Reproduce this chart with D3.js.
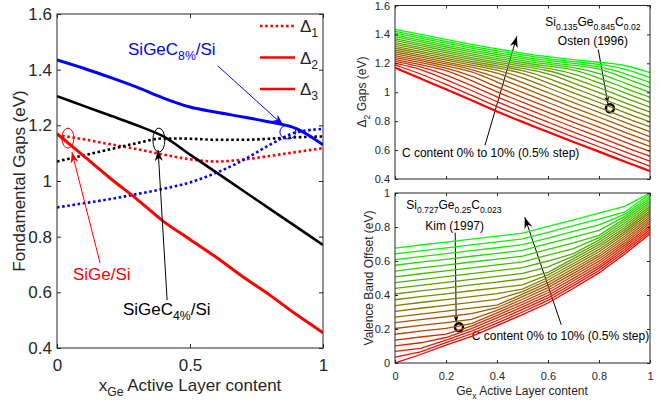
<!DOCTYPE html>
<html lang="en">
<head>
<meta charset="UTF-8">
<title>SiGeC fundamental gaps</title>
<script src="https://d3js.org/d3.v7.min.js"></script>
<style>
  body { margin: 0; padding: 0; background-color: #ffffff; }
  svg { display: block; }
</style>
</head>
<body>
<svg id="chart" width="670" height="403" font-family="Arial, 'Liberation Sans', Helvetica, sans-serif"></svg>
<script>
// ---- data ----
const xGrid = [0, 0.1, 0.2, 0.3, 0.4, 0.5, 0.6, 0.7, 0.8, 0.9, 1];

// left panel: fundamental gaps vs Ge content
const d1SiGe = [1.165, 1.15, 1.132, 1.115, 1.095, 1.078, 1.07, 1.077, 1.09, 1.104, 1.118];
const d2SiGe = [1.17, 1.09, 1.01, 0.935, 0.855, 0.79, 0.725, 0.655, 0.59, 0.52, 0.455];
const d1C4 = [1.07, 1.092, 1.114, 1.136, 1.153, 1.152, 1.148, 1.148, 1.152, 1.157, 1.16];
const d2C4 = [1.305, 1.27, 1.235, 1.2, 1.16, 1.095, 1.03, 0.965, 0.9, 0.835, 0.77];
const d1C8 = [0.905, 0.92, 0.935, 0.953, 0.972, 0.995, 1.03, 1.075, 1.13, 1.175, 1.187];
const d2C8 = [1.435, 1.405, 1.372, 1.337, 1.298, 1.266, 1.247, 1.23, 1.212, 1.188, 1.13];

const leftXTicks = [0, 0.5, 1];
const gapTicks = [0.4, 0.6, 0.8, 1, 1.2, 1.4, 1.6];
const rightXTicks = [0, 0.2, 0.4, 0.6, 0.8, 1];
const vboTicks = [0, 0.2, 0.4, 0.6, 0.8, 1];

// top right: Delta2 gap, C content 0% .. 10% in 0.5% steps (21 curves)
const d2Gaps = [
  [1.17, 1.095, 1.02, 0.945, 0.865, 0.795, 0.725, 0.655, 0.59, 0.52, 0.455],
  [1.188, 1.129, 1.054, 0.979, 0.899, 0.829, 0.759, 0.689, 0.624, 0.554, 0.489],
  [1.201, 1.163, 1.088, 1.013, 0.933, 0.863, 0.793, 0.723, 0.658, 0.588, 0.523],
  [1.214, 1.179, 1.122, 1.047, 0.967, 0.897, 0.827, 0.757, 0.692, 0.622, 0.557],
  [1.227, 1.192, 1.156, 1.081, 1.001, 0.931, 0.861, 0.791, 0.726, 0.656, 0.591],
  [1.24, 1.205, 1.17, 1.115, 1.035, 0.965, 0.895, 0.825, 0.76, 0.69, 0.625],
  [1.253, 1.218, 1.183, 1.148, 1.069, 0.999, 0.929, 0.859, 0.794, 0.724, 0.659],
  [1.266, 1.231, 1.196, 1.161, 1.103, 1.033, 0.963, 0.893, 0.828, 0.758, 0.693],
  [1.279, 1.244, 1.209, 1.174, 1.137, 1.067, 0.997, 0.927, 0.862, 0.792, 0.727],
  [1.292, 1.257, 1.222, 1.187, 1.157, 1.101, 1.031, 0.961, 0.896, 0.826, 0.761],
  [1.305, 1.27, 1.235, 1.2, 1.17, 1.135, 1.065, 0.995, 0.93, 0.86, 0.795],
  [1.318, 1.283, 1.248, 1.213, 1.183, 1.153, 1.099, 1.029, 0.964, 0.894, 0.829],
  [1.331, 1.296, 1.261, 1.226, 1.196, 1.166, 1.133, 1.063, 0.998, 0.928, 0.863],
  [1.344, 1.309, 1.274, 1.239, 1.209, 1.179, 1.154, 1.097, 1.032, 0.962, 0.897],
  [1.357, 1.322, 1.287, 1.252, 1.222, 1.192, 1.167, 1.131, 1.066, 0.996, 0.931],
  [1.37, 1.335, 1.3, 1.265, 1.235, 1.205, 1.18, 1.16, 1.1, 1.03, 0.965],
  [1.383, 1.348, 1.313, 1.278, 1.248, 1.218, 1.193, 1.173, 1.134, 1.064, 0.999],
  [1.396, 1.361, 1.326, 1.291, 1.261, 1.231, 1.206, 1.186, 1.168, 1.098, 1.033],
  [1.409, 1.374, 1.339, 1.304, 1.274, 1.244, 1.219, 1.199, 1.181, 1.132, 1.067],
  [1.422, 1.387, 1.352, 1.317, 1.287, 1.257, 1.232, 1.212, 1.194, 1.166, 1.101],
  [1.435, 1.4, 1.365, 1.33, 1.3, 1.27, 1.245, 1.225, 1.207, 1.192, 1.135]
];

// bottom right: valence band offset, same 21 C contents
const vbOffset = [
  [0, 0.05, 0.105, 0.157, 0.22, 0.285, 0.353, 0.44, 0.53, 0.64, 0.76],
  [0.034, 0.065, 0.12, 0.172, 0.235, 0.3, 0.368, 0.455, 0.544, 0.653, 0.772],
  [0.068, 0.086, 0.135, 0.187, 0.25, 0.315, 0.383, 0.469, 0.558, 0.666, 0.785],
  [0.101, 0.119, 0.15, 0.202, 0.265, 0.33, 0.398, 0.484, 0.571, 0.679, 0.797],
  [0.135, 0.153, 0.17, 0.217, 0.28, 0.345, 0.413, 0.498, 0.585, 0.692, 0.809],
  [0.169, 0.187, 0.204, 0.232, 0.295, 0.36, 0.428, 0.513, 0.599, 0.705, 0.822],
  [0.203, 0.221, 0.238, 0.256, 0.31, 0.375, 0.443, 0.527, 0.613, 0.718, 0.834],
  [0.237, 0.255, 0.272, 0.29, 0.325, 0.39, 0.458, 0.542, 0.627, 0.731, 0.846],
  [0.27, 0.288, 0.305, 0.323, 0.34, 0.405, 0.473, 0.556, 0.64, 0.744, 0.858],
  [0.304, 0.322, 0.339, 0.357, 0.374, 0.42, 0.488, 0.571, 0.654, 0.757, 0.871],
  [0.338, 0.356, 0.373, 0.391, 0.408, 0.435, 0.503, 0.585, 0.668, 0.77, 0.883],
  [0.372, 0.39, 0.407, 0.425, 0.442, 0.46, 0.518, 0.6, 0.682, 0.783, 0.895],
  [0.406, 0.424, 0.441, 0.459, 0.476, 0.494, 0.533, 0.614, 0.696, 0.796, 0.908],
  [0.439, 0.457, 0.474, 0.492, 0.509, 0.527, 0.566, 0.629, 0.709, 0.809, 0.92],
  [0.473, 0.491, 0.508, 0.526, 0.543, 0.561, 0.6, 0.643, 0.723, 0.822, 0.932],
  [0.507, 0.525, 0.542, 0.56, 0.577, 0.595, 0.634, 0.673, 0.737, 0.835, 0.945],
  [0.541, 0.559, 0.576, 0.594, 0.611, 0.629, 0.668, 0.707, 0.751, 0.848, 0.957],
  [0.575, 0.593, 0.61, 0.628, 0.645, 0.663, 0.702, 0.741, 0.78, 0.861, 0.969],
  [0.608, 0.626, 0.643, 0.661, 0.678, 0.696, 0.735, 0.774, 0.813, 0.874, 0.981],
  [0.642, 0.66, 0.677, 0.695, 0.712, 0.73, 0.769, 0.808, 0.847, 0.887, 0.994],
  [0.676, 0.694, 0.711, 0.729, 0.746, 0.764, 0.803, 0.842, 0.881, 0.921, 1.0]
];

// ---- setup ----
const svg = d3.select("#chart");
const ink = "#262626";

const xL = d3.scaleLinear().domain([0, 1]).range([57, 323]);
const yL = d3.scaleLinear().domain([0.4, 1.6]).range([348, 14]);
const xR = d3.scaleLinear().domain([0, 1]).range([395, 650]);
const yT = d3.scaleLinear().domain([0.4, 1.6]).range([179, 5.5]);
const yB = d3.scaleLinear().domain([0, 1]).range([363, 193]);

const defs = svg.append("defs");
function arrowHead(name, color, len, wid) {
  defs.append("marker").attr("id", "ah-" + name)
    .attr("viewBox", `0 0 ${len} ${wid}`)
    .attr("refX", len).attr("refY", wid / 2)
    .attr("markerWidth", len).attr("markerHeight", wid)
    .attr("markerUnits", "userSpaceOnUse").attr("orient", "auto")
    .append("path")
    .attr("d", `M0,0 L${len},${wid / 2} L0,${wid} L${len * 0.3},${wid / 2} Z`)
    .attr("fill", color);
}
arrowHead("blue", "#0000ff", 11, 8);
arrowHead("red", "#ff0000", 11, 8);
arrowHead("black", "#000000", 11, 8);
arrowHead("small", "#000000", 7, 5);

function clipFor(id, x, y) {
  defs.append("clipPath").attr("id", id).append("rect")
    .attr("x", x.range()[0]).attr("y", y.range()[1])
    .attr("width", x.range()[1] - x.range()[0])
    .attr("height", y.range()[0] - y.range()[1]);
}
clipFor("clipL", xL, yL);
clipFor("clipT", xR, yT);
clipFor("clipB", xR, yB);

// text with subscripts: parts = [[string, isSub], ...]
function rich(g, x, y, parts, size, color, anchor) {
  const t = g.append("text").attr("x", x).attr("y", y)
    .attr("font-size", size).attr("fill", color)
    .attr("text-anchor", anchor || "start");
  let down = false;
  parts.forEach(([s, sub]) => {
    const sp = t.append("tspan").text(s);
    if (sub) {
      sp.attr("font-size", size * 0.72);
      if (!down) { sp.attr("dy", size * 0.32); down = true; }
    } else if (down) {
      sp.attr("dy", -size * 0.32); down = false;
    }
  });
  return t;
}

// box with inward ticks on all four sides
function frame(x, y, xTicks, yTicks, o) {
  const fmt = d => String(+d.toFixed(2));
  const [x0, x1] = x.range(), [y0, y1] = y.range();
  const g = svg.append("g");
  g.append("g").attr("transform", `translate(0,${y0})`)
    .call(d3.axisBottom(x).tickValues(xTicks).tickSize(-o.tick).tickPadding(o.xPad)
      .tickFormat(o.xLabels ? fmt : ""));
  g.append("g").attr("transform", `translate(0,${y1})`)
    .call(d3.axisTop(x).tickValues(xTicks).tickSize(-o.tick).tickFormat(""));
  g.append("g").attr("transform", `translate(${x0},0)`)
    .call(d3.axisLeft(y).tickValues(yTicks).tickSize(-o.tick).tickPadding(o.yPad).tickFormat(fmt));
  g.append("g").attr("transform", `translate(${x1},0)`)
    .call(d3.axisRight(y).tickValues(yTicks).tickSize(-o.tick).tickFormat(""));
  g.selectAll(".domain").remove();
  g.selectAll(".tick line").attr("stroke", ink);
  g.selectAll("g").attr("font-family", null).attr("font-size", null);
  g.selectAll("text").attr("fill", ink).attr("font-size", o.font);
  g.append("rect").attr("x", x0).attr("y", y1).attr("width", x1 - x0).attr("height", y0 - y1)
    .attr("fill", "none").attr("stroke", ink).attr("stroke-width", 1);
}

// ---- left panel ----
const lineL = d3.line().x((d, i) => xL(xGrid[i])).y(d => yL(d)).curve(d3.curveMonotoneX);
const leftSeries = [
  { v: d1SiGe, color: "#ff0000", dotted: true, w: 2.6 },
  { v: d1C4, color: "#000000", dotted: true, w: 2.6 },
  { v: d1C8, color: "#0000ff", dotted: true, w: 2.6 },
  { v: d2SiGe, color: "#ff0000", dotted: false, w: 3 },
  { v: d2C4, color: "#000000", dotted: false, w: 2.6 },
  { v: d2C8, color: "#0000ff", dotted: false, w: 3 }
];
svg.append("g").attr("clip-path", "url(#clipL)")
  .selectAll("path").data(leftSeries).join("path")
  .attr("d", d => lineL(d.v))
  .attr("fill", "none")
  .attr("stroke", d => d.color)
  .attr("stroke-width", d => d.w)
  .attr("stroke-dasharray", d => d.dotted ? "2.6,2.6" : null);

frame(xL, yL, leftXTicks, gapTicks, { tick: 4, xPad: 11, yPad: 5, font: 17, xLabels: true });

// legend
const legend = [
  { name: "1", dotted: true },
  { name: "2", dotted: false },
  { name: "3", dotted: false }
];
const lg = svg.append("g");
legend.forEach((d, i) => {
  const y = 26 + i * 31.5;
  lg.append("line").attr("x1", 260).attr("x2", 295).attr("y1", y).attr("y2", y)
    .attr("stroke", "#ff0000").attr("stroke-width", 2.6)
    .attr("stroke-dasharray", d.dotted ? "2.6,2.6" : null);
  rich(lg, 300, y + 6, [["\u0394"], [d.name, true]], 17, ink);
});

// annotations (anchored in data coordinates)
const ann = svg.append("g");
function ellipse(cx, cy, rx, ry, color) {
  ann.append("ellipse").attr("cx", xL(cx)).attr("cy", yL(cy)).attr("rx", rx).attr("ry", ry)
    .attr("fill", "none").attr("stroke", color).attr("stroke-width", 1);
}
function arrow(sx, sy, x1, y1, x2, y2, color, head) {
  ann.append("line")
    .attr("x1", sx(x1)).attr("y1", sy(y1)).attr("x2", sx(x2)).attr("y2", sy(y2))
    .attr("stroke", color).attr("stroke-width", 1)
    .attr("marker-end", `url(#ah-${head})`);
}
ellipse(0.868, 1.176, 8, 7, "#0000ff");
ellipse(0.041, 1.154, 6, 10, "#ff0000");
ellipse(0.383, 1.147, 6, 12, "#000000");
arrow(xL, yL, 0.605, 1.413, 0.85, 1.201, "#0000ff", "blue");
arrow(xL, yL, 0.162, 0.705, 0.056, 1.104, "#ff0000", "red");
arrow(xL, yL, 0.414, 0.572, 0.38, 1.111, "#000000", "black");
rich(ann, xL(0.267), yL(1.453), [["SiGeC"], ["8%", true], ["/Si"]], 17, "#0000ff");
rich(ann, xL(0.06), yL(0.644), [["SiGe/Si"]], 17, "#ff0000");
rich(ann, xL(0.248), yL(0.519), [["SiGeC"], ["4%", true], ["/Si"]], 17, "#000000");

svg.append("text").attr("transform", "translate(25,181) rotate(-90)")
  .attr("text-anchor", "middle").attr("font-size", 17).attr("fill", ink)
  .text("Fondamental Gaps (eV)");
rich(svg, 190, 391, [["x"], ["Ge", true], [" Active Layer content"]], 17, ink, "middle");

// ---- right panels ----
const colorC = i => d3.interpolateRgb("#ff0000", "#00ff00")(i / (d2Gaps.length - 1));

const lineT = d3.line().x((d, i) => xR(xGrid[i])).y(d => yT(d)).curve(d3.curveBasis);
svg.append("g").attr("clip-path", "url(#clipT)")
  .selectAll("path").data(d2Gaps).join("path")
  .attr("d", lineT)
  .attr("fill", "none")
  .attr("stroke", (d, i) => colorC(i))
  .attr("stroke-width", (d, i) => i === 0 ? 2.2 : 1.3);

frame(xR, yT, rightXTicks, gapTicks, { tick: 3, xPad: 9, yPad: 5, font: 11, xLabels: false });

const lineB = d3.line().x((d, i) => xR(xGrid[i])).y(d => yB(d));
svg.append("g").attr("clip-path", "url(#clipB)")
  .selectAll("path").data(vbOffset).join("path")
  .attr("d", lineB)
  .attr("fill", "none")
  .attr("stroke", (d, i) => colorC(i))
  .attr("stroke-width", 1.3);

frame(xR, yB, rightXTicks, vboTicks, { tick: 3, xPad: 9, yPad: 5, font: 11, xLabels: true });

// top right annotations
rich(ann, xR(0.776), yT(1.456), [["Si"], ["0.135", true], ["Ge"], ["0.845", true], ["C"], ["0.02", true]], 12, "#000000", "middle");
ann.append("text").attr("x", xR(0.776)).attr("y", yT(1.33)).attr("text-anchor", "middle")
  .attr("font-size", 12).attr("fill", "#000000").text("Osten (1996)");
arrow(xR, yT, 0.797, 1.296, 0.835, 0.921, "#000000", "small");
ann.append("circle").attr("cx", xR(0.843)).attr("cy", yT(0.889)).attr("r", 4)
  .attr("fill", "#ffffff").attr("stroke", "#000000").attr("stroke-width", 2.5);
arrow(xR, yT, 0.353, 0.633, 0.478, 1.387, "#000000", "black");
ann.append("text").attr("x", xR(0.027)).attr("y", yT(0.551))
  .attr("font-size", 12).attr("fill", "#000000").text("C content 0% to 10% (0.5% step)");

// bottom right annotations
rich(ann, xR(0.231), yB(0.904), [["Si"], ["0.727", true], ["Ge"], ["0.25", true], ["C"], ["0.023", true]], 12, "#000000", "middle");
ann.append("text").attr("x", xR(0.234)).attr("y", yB(0.783)).attr("text-anchor", "middle")
  .attr("font-size", 12).attr("fill", "#000000").text("Kim (1997)");
arrow(xR, yB, 0.236, 0.767, 0.24, 0.238, "#000000", "small");
ann.append("circle").attr("cx", xR(0.251)).attr("cy", yB(0.211)).attr("r", 4)
  .attr("fill", "#ffffff").attr("stroke", "#000000").attr("stroke-width", 2.5);
arrow(xR, yB, 0.652, 0.225, 0.509, 0.857, "#000000", "black");
ann.append("text").attr("x", xR(0.649)).attr("y", yB(0.137)).attr("text-anchor", "middle")
  .attr("font-size", 12).attr("fill", "#000000").text("C content 0% to 10% (0.5% step)");

// axis titles
rich(svg, 0, 0, [["\u0394"], ["2", true], [" Gaps (eV)"]], 12, ink, "middle")
  .attr("transform", "translate(366,92) rotate(-90)");
svg.append("text").attr("transform", "translate(373,278) rotate(-90)")
  .attr("text-anchor", "middle").attr("font-size", 12).attr("fill", ink)
  .text("Valence Band Offset (eV)");
rich(svg, 522, 395, [["Ge"], ["x", true], [" Active Layer content"]], 12, ink, "middle");
</script>
</body>
</html>
